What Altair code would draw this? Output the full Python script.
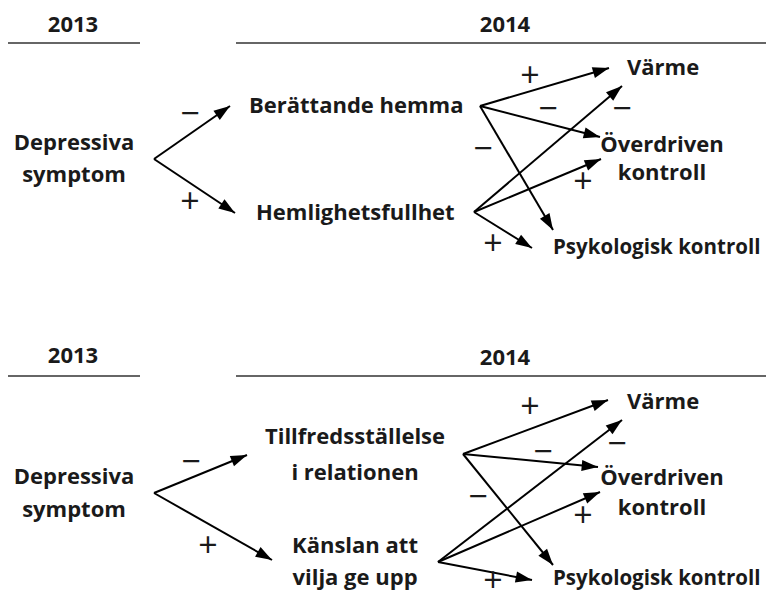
import math
import altair as alt
import pandas as pd

FONT = "Open Sans"

# ---- header labels and rules ----
year_text = ["2013", "2014", "2013", "2014"]
year_x = [73, 505, 73, 505]
year_y = [25, 25, 356, 358]

rule_x1 = [7, 236, 7, 236]
rule_x2 = [140, 766, 140, 766]
rule_y = [43, 43, 376, 376]

# ---- node labels ----
node_text = [
    "Depressiva", "symptom", "Berättande hemma", "Hemlighetsfullhet",
    "Värme", "Överdriven", "kontroll", "Psykologisk kontroll",
    "Depressiva", "symptom", "Tillfredsställelse", "i relationen",
    "Känslan att", "vilja ge upp",
    "Värme", "Överdriven", "kontroll", "Psykologisk kontroll",
]
node_x = [74, 74, 249, 256, 627, 662, 662, 553,
          74, 74, 355, 355, 355, 355, 627, 662, 662, 553]
node_y = [143, 175, 106, 213, 68, 145, 173, 248,
          477, 510, 437, 473, 546, 578, 402, 478, 508, 579]
node_align = ["center", "center", "left", "left", "left", "center", "center", "left",
              "center", "center", "center", "center", "center", "center",
              "left", "center", "center", "left"]

# ---- paths (source -> arrow tip) ----
edge_x1 = [154, 154, 480, 480, 480, 474, 474, 474,
           154, 154, 463, 463, 463, 438, 438, 438]
edge_y1 = [159, 159, 106, 106, 106, 212, 212, 212,
           493, 493, 454, 454, 454, 562, 562, 562]
edge_x2 = [230, 235, 609, 600, 553, 622, 601, 532,
           247, 272, 608, 598, 553, 622, 600, 532]
edge_y2 = [106, 213, 68, 137, 230, 86, 159, 248,
           455, 560, 400, 467, 565, 420, 492, 580]

# ---- signs ----
sign_text = ["−", "+", "+", "−", "−", "−", "+", "+",
             "−", "+", "+", "−", "−", "−", "+", "+"]
sign_x = [190, 190, 530, 548, 483, 622, 583, 493,
          191, 208, 530, 543, 478, 617, 583, 493]
sign_y = [115, 203, 77, 110, 150, 110, 183, 245,
          463, 547, 408, 453, 498, 445, 517, 582]

years = pd.DataFrame({"t": year_text, "x": year_x, "y": year_y})
rules = pd.DataFrame({"x": rule_x1, "x2": rule_x2, "y": rule_y})
nodes = pd.DataFrame({"t": node_text, "x": node_x, "y": node_y, "a": node_align})
edges = pd.DataFrame({"x": edge_x1, "y": edge_y1, "x2": edge_x2, "y2": edge_y2})
edges["angle"] = [
    (math.degrees(math.atan2(x2 - x1, -(y2 - y1))) + 360) % 360
    for x1, y1, x2, y2 in zip(edge_x1, edge_y1, edge_x2, edge_y2)
]
signs = pd.DataFrame({"t": sign_text, "x": sign_x, "y": sign_y})

W, H = 759, 582
xs = alt.Scale(domain=[8, 8 + W], nice=False, zero=False)
ys = alt.Scale(domain=[8, 8 + H], nice=False, zero=False, reverse=True)
X = lambda f="x": alt.X(f"{f}:Q", scale=xs, axis=None)
Y = lambda f="y": alt.Y(f"{f}:Q", scale=ys, axis=None)

rule_layer = alt.Chart(rules).mark_rule(color="#333333", strokeWidth=1.6).encode(
    x=X(), x2="x2:Q", y=Y()
)
year_layer = alt.Chart(years).mark_text(
    font=FONT, fontSize=22, fontWeight="bold", color="#1a1a1a", baseline="middle"
).encode(x=X(), y=Y(), text="t:N")

edge_layer = alt.Chart(edges).mark_rule(color="#000000", strokeWidth=2).encode(
    x=X(), y=Y(), x2="x2:Q", y2="y2:Q"
)
head_layer = alt.Chart(edges).mark_point(
    shape="M0,0L-0.75,2.2L0.75,2.2Z", filled=True, size=220, color="#000000", opacity=1
).encode(x=X("x2"), y=Y("y2"), angle=alt.Angle("angle:Q", scale=None))

LONG = "Psykologisk kontroll"
node_layers = []
for al in ["left", "center"]:
    sub = nodes[(nodes["a"] == al) & (nodes["t"] != LONG)]
    node_layers.append(
        alt.Chart(sub).mark_text(
            font=FONT, fontSize=22, fontWeight="bold", color="#1a1a1a",
            baseline="middle", align=al
        ).encode(x=X(), y=Y(), text="t:N")
    )
node_layers.append(
    alt.Chart(nodes[nodes["t"] == LONG]).mark_text(
        font=FONT, fontSize=20.5, fontWeight="bold", color="#1a1a1a",
        baseline="middle", align="left"
    ).encode(x=X(), y=Y(), text="t:N")
)

sign_layer = alt.Chart(signs).mark_text(
    font=FONT, fontSize=34, color="#1a1a1a", baseline="middle", align="center"
).encode(x=X(), y=Y(), text="t:N")

chart = alt.layer(
    rule_layer, year_layer, edge_layer, head_layer, *node_layers, sign_layer
).properties(
    width=W, height=H, padding=0, autosize=alt.AutoSizeParams(type="none"),
    background="white"
).configure_view(stroke=None)

chart.save("out.html", embed_options={"renderer": "svg", "actions": False})
